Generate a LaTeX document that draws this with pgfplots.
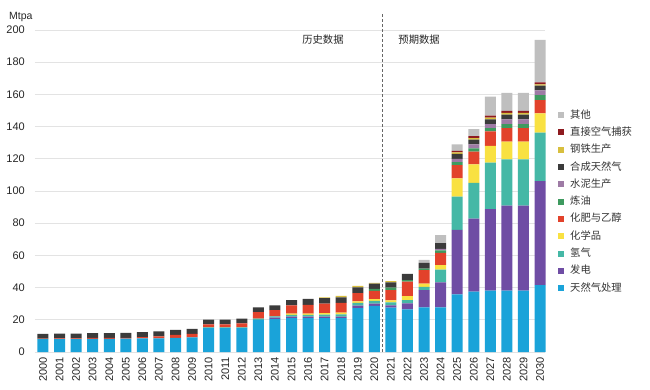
\documentclass[border=0pt]{standalone}
\usepackage{pgfplots}
\pgfplotsset{compat=1.18}
\usepackage{pgfplotstable}
\usepackage{fontspec}
\setmainfont{Liberation Sans}
\newfontfamily\cjk{Noto Sans CJK SC}

\definecolor{cBlue}{HTML}{1AA3D9}
\definecolor{cPow}{HTML}{6F4DA4}
\definecolor{cH2}{HTML}{45B8A6}
\definecolor{cChem}{HTML}{F9E142}
\definecolor{cFert}{HTML}{E2422B}
\definecolor{cRef}{HTML}{3E9A5F}
\definecolor{cCem}{HTML}{9E7BA5}
\definecolor{cSng}{HTML}{3B3B3B}
\definecolor{cSteel}{HTML}{D8BF3E}
\definecolor{cDac}{HTML}{8E1A1F}
\definecolor{cOth}{HTML}{BFBFBF}

\pgfplotstableread{
x blue pow h2 chem fert ref cem sng steel dac oth
0 8.0 0 0 0 0.3 0 0 2.9 0 0 0
1 8.0 0 0 0 0.4 0 0 3.0 0 0 0
2 8.0 0 0 0 0.4 0 0 3.0 0 0 0
3 8.2 0 0 0 0.5 0 0 3.1 0 0 0
4 8.2 0 0 0 0.5 0 0 3.1 0 0 0
5 8.3 0 0 0 0.5 0 0 3.1 0 0 0
6 8.5 0 0 0 0.8 0 0 3.1 0 0 0
7 8.5 0 0 0 1.2 0 0 3.1 0 0 0
8 8.8 0 0 0 1.8 0 0 3.1 0 0 0
9 9.1 0 0 0 2.2 0 0 3.1 0 0 0
10 14.8 0 0.5 0 1.8 0 0 3.0 0 0 0
11 14.8 0 0.5 0 1.8 0 0 3.0 0 0 0
12 14.8 0 0.5 0 2.5 0 0 3.0 0 0 0
13 20.0 0 0.8 0 3.9 0 0 3.0 0 0 0
14 20.4 1.0 0.8 0 3.8 0 0 3.0 0 0 0
15 21.0 1.0 1.0 0.8 5.2 0 0 3.3 0 0 0
16 21.0 1.0 1.0 0.8 5.5 0 0 3.7 0 0 0
17 21.0 1.0 1.2 1.0 5.8 0 0 3.5 0.5 0 0
18 21.0 1.0 1.3 1.2 6.0 0 0 3.5 0.8 0 0
19 27.3 1.5 1.7 1.0 5.0 0 0 3.7 0.8 0 0
20 28.6 1.5 1.7 1.0 5.2 1.2 0 3.2 0.6 0 0
21 27.5 1.5 1.8 1.2 6.5 1.5 0 3.3 0.8 0 0
22 26.5 3.7 2.0 2.5 9.0 1.0 0 3.8 0 0 0
23 27.7 10.8 2.0 2.0 8.3 1.0 0 3.5 0 0 2.0
24 27.7 15.5 8.0 2.7 7.7 1.5 1.0 3.5 0 0 5.0
25 35.8 40.0 20.7 11.4 8.1 2.0 2.0 3.0 1.0 1.0 4.0
26 37.5 45.3 22.2 11.6 7.8 2.0 2.5 3.0 1.0 1.2 4.4
27 38.1 50.7 28.8 10.4 9.0 2.0 2.5 3.0 1.0 1.3 11.8
28 38.1 52.8 28.8 10.9 8.4 2.5 3.0 3.0 1.0 1.3 11.2
29 38.1 52.8 28.8 10.9 8.4 2.5 3.0 3.0 1.0 1.3 11.2
30 41.6 64.6 30.0 12.0 8.3 3.0 3.0 3.0 0.8 1.2 26.3
}\data

\begin{document}
\begin{tikzpicture}
\useasboundingbox (-34.7pt,-37pt) rectangle (615.3pt,352pt);
\begin{axis}[
  scale only axis,
  width=510.3pt, height=322pt,
  xmin=-0.5, xmax=30.3, ymin=0, ymax=200,
  clip=false,
  ybar stacked, bar width=11pt,
  axis line style={draw=none},
  major tick length=0pt,
  ymajorgrids, grid style={draw=black!11, line width=0.8pt},
  ytick={0,20,...,200},
  xtick={0,...,30},
  xticklabels={2000,2001,2002,2003,2004,2005,2006,2007,2008,2009,2010,2011,2012,2013,2014,2015,2016,2017,2018,2019,2020,2021,2022,2023,2024,2025,2026,2027,2028,2029,2030},
  /pgf/number format/assume math mode=true,
  tick label style={font=\fontsize{11}{13}\selectfont, text=black!85},
  xticklabel style={rotate=90, anchor=east, inner sep=0pt},
  xticklabel shift=5pt,
  yticklabel style={inner sep=0pt},
  yticklabel shift=9.7pt,
  reverse legend,
  legend image code/.code={\fill[#1] (0pt,-3pt) rectangle (6pt,3pt);},
  legend style={at={(rel axis cs:1.0255,0.7516)}, anchor=north west, draw=none, fill=none,
    font=\cjk\fontsize{10.3}{12}\selectfont, text=black!80,
    row sep=7.3pt, inner sep=0pt,
    nodes={inner sep=0pt, text height=8pt, text depth=2pt, inner xsep=6pt}},
  legend cell align=left,
]
\addplot[fill=cBlue, draw=none] table[x=x,y=blue]{\data};
\addlegendentry{天然气处理}
\addplot[fill=cPow, draw=none] table[x=x,y=pow]{\data};
\addlegendentry{发电}
\addplot[fill=cH2, draw=none] table[x=x,y=h2]{\data};
\addlegendentry{氢气}
\addplot[fill=cChem, draw=none] table[x=x,y=chem]{\data};
\addlegendentry{化学品}
\addplot[fill=cFert, draw=none] table[x=x,y=fert]{\data};
\addlegendentry{化肥与乙醇}
\addplot[fill=cRef, draw=none] table[x=x,y=ref]{\data};
\addlegendentry{炼油}
\addplot[fill=cCem, draw=none] table[x=x,y=cem]{\data};
\addlegendentry{水泥生产}
\addplot[fill=cSng, draw=none] table[x=x,y=sng]{\data};
\addlegendentry{合成天然气}
\addplot[fill=cSteel, draw=none] table[x=x,y=steel]{\data};
\addlegendentry{钢铁生产}
\addplot[fill=cDac, draw=none] table[x=x,y=dac]{\data};
\addlegendentry{直接空气捕获}
\addplot[fill=cOth, draw=none] table[x=x,y=oth]{\data};
\addlegendentry{其他}

\draw[black!60, dash pattern=on 3pt off 2pt, line width=0.8pt] (axis cs:20.5,0) -- (axis cs:20.5,210.6);
\node[font=\cjk\fontsize{10.3}{12}\selectfont, text=black!85] at (axis cs:16.9,193.8) {历史数据};
\node[font=\cjk\fontsize{10.3}{12}\selectfont, text=black!85] at (axis cs:22.7,193.8) {预期数据};
\node[anchor=west, inner sep=0pt, font=\fontsize{10.5}{12}\selectfont, text=black!85] at (axis cs:-2.05,208.3) {Mtpa};
\end{axis}
\end{tikzpicture}
\end{document}
